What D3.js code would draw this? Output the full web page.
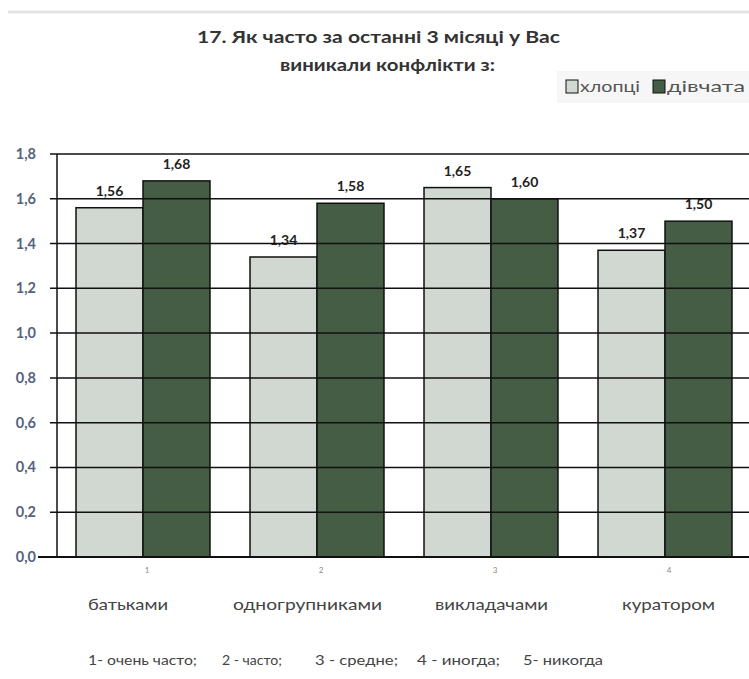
<!DOCTYPE html>
<html><head><meta charset="utf-8">
<script src="https://cdn.jsdelivr.net/npm/d3@7"></script>
<style>
html,body{margin:0;padding:0;background:#fff;}
svg{display:block;}
</style></head>
<body>
<svg id="chart" width="749" height="679"></svg>
<script>
const categories = ["батьками", "одногрупниками", "викладачами", "куратором"];
const categoryNumbers = ["1", "2", "3", "4"];
const seriesNames = ["хлопці", "дівчата"];
const boys = [1.56, 1.34, 1.65, 1.37];
const girls = [1.68, 1.58, 1.60, 1.50];
const yTicks = [0, 0.2, 0.4, 0.6, 0.8, 1.0, 1.2, 1.4, 1.6, 1.8];
const titleLines = ["17. Як часто за останні 3 місяці у Вас", "виникали конфлікти з:"];
const footnote = ["1- очень часто;", "2 - часто;", "3 - средне;", "4 - иногда;", "5- никогда"];

// layout (not data)
const colors = ["#d1d8d1", "#465d45"];
const font = "Lato, 'Open Sans', sans-serif";
const titleLayout = [{x: 197, w: 363, y: 43}, {x: 280, w: 215, y: 71}];
const legendLayout = [{sq: 566, tx: 580, tw: 60}, {sq: 653, tx: 667, tw: 78}];
const nameLayout = [{x: 88, w: 80}, {x: 233, w: 149}, {x: 435, w: 113}, {x: 622, w: 93}];
const footLayout = [{x: 88, w: 109}, {x: 222, w: 60}, {x: 315, w: 83}, {x: 417, w: 83}, {x: 523, w: 80}];

const svg = d3.select("#chart");

// top border line
svg.append("line").attr("x1", 8).attr("x2", 749).attr("y1", 12).attr("y2", 12)
  .attr("stroke", "#e4e4e4").attr("stroke-width", 3);

// title
svg.append("g").selectAll("text").data(titleLines).join("text")
  .attr("x", (d, i) => titleLayout[i].x).attr("y", (d, i) => titleLayout[i].y)
  .attr("textLength", (d, i) => titleLayout[i].w).attr("lengthAdjust", "spacingAndGlyphs")
  .attr("font-family", font).attr("font-weight", "bold").attr("font-size", 17)
  .attr("fill", "#333").text(d => d);

// legend
const lg = svg.append("g");
lg.append("rect").attr("x", 557).attr("y", 71).attr("width", 192).attr("height", 32).attr("fill", "#f6f6f6");
seriesNames.forEach((s, i) => {
  lg.append("rect").attr("x", legendLayout[i].sq).attr("y", 80).attr("width", 12).attr("height", 13)
    .attr("fill", colors[i]).attr("stroke", "#111").attr("stroke-width", 1);
  lg.append("text").attr("x", legendLayout[i].tx).attr("y", 92)
    .attr("textLength", legendLayout[i].tw).attr("lengthAdjust", "spacingAndGlyphs")
    .attr("font-family", font).attr("font-size", 16).attr("fill", "#555").text(s);
});

const left = 56, right = 752, y0 = 557, yTop = 154;
const x = d3.scaleBand().domain(categories).range([left, right]).paddingInner(0.23).paddingOuter(0.115);
const xs = d3.scaleBand().domain(seriesNames).range([0, x.bandwidth()]);
const y = d3.scaleLinear().domain([0, 1.8]).range([y0, yTop]);

// bars
const groups = svg.append("g").selectAll("g").data(categories).join("g")
  .attr("transform", d => `translate(${x(d)},0)`);
groups.selectAll("rect").data((d, i) => [boys[i], girls[i]].map((v, j) => ({v, s: seriesNames[j], j})))
  .join("rect")
  .attr("x", d => xs(d.s)).attr("width", xs.bandwidth())
  .attr("y", d => y(d.v)).attr("height", d => y0 - y(d.v))
  .attr("fill", d => colors[d.j]).attr("stroke", "#111").attr("stroke-width", 1.5);

// gridlines
svg.append("g").selectAll("line").data(yTicks.filter(t => t > 0)).join("line")
  .attr("x1", 50).attr("x2", 749).attr("y1", d => y(d)).attr("y2", d => y(d))
  .attr("stroke", "#111").attr("stroke-width", 1.5);

// y axis labels
svg.append("g").selectAll("text").data(yTicks).join("text")
  .attr("x", 36).attr("y", d => y(d) + 5).attr("text-anchor", "end")
  .attr("font-family", font).attr("font-weight", "bold").attr("font-size", 14.5)
  .attr("fill", "#56627e").text(d => d3.format(".1f")(d).replace(".", ","));

// axes lines
svg.append("line").attr("x1", 57).attr("x2", 57).attr("y1", yTop).attr("y2", y0)
  .attr("stroke", "#111").attr("stroke-width", 1.5);
svg.append("line").attr("x1", 38).attr("x2", 749).attr("y1", y0).attr("y2", y0)
  .attr("stroke", "#111").attr("stroke-width", 2);

// data labels
groups.selectAll("text.val").data((d, i) => [boys[i], girls[i]].map((v, j) => ({v, s: seriesNames[j]})))
  .join("text").attr("class", "val")
  .attr("x", d => xs(d.s) + xs.bandwidth() / 2).attr("y", d => y(d.v) - 12)
  .attr("text-anchor", "middle")
  .attr("font-family", font).attr("font-weight", "bold").attr("font-size", 14)
  .attr("fill", "#222").text(d => d3.format(".2f")(d.v).replace(".", ","));

// category numbers
svg.append("g").selectAll("text").data(categories).join("text")
  .attr("x", d => x(d) + x.bandwidth() / 2 + 4).attr("y", 573)
  .attr("text-anchor", "middle").attr("font-family", font).attr("font-size", 8)
  .attr("fill", "#888").text((d, i) => categoryNumbers[i]);

// category names
svg.append("g").selectAll("text").data(categories).join("text")
  .attr("x", (d, i) => nameLayout[i].x).attr("y", 610)
  .attr("textLength", (d, i) => nameLayout[i].w).attr("lengthAdjust", "spacingAndGlyphs")
  .attr("font-family", font).attr("font-size", 16)
  .attr("fill", "#444").text(d => d);

// footnote
svg.append("g").selectAll("text").data(footnote).join("text")
  .attr("x", (d, i) => footLayout[i].x).attr("y", 665)
  .attr("textLength", (d, i) => footLayout[i].w).attr("lengthAdjust", "spacingAndGlyphs")
  .attr("font-family", font).attr("font-size", 13)
  .attr("fill", "#444").text(d => d);
</script>
</body></html>
